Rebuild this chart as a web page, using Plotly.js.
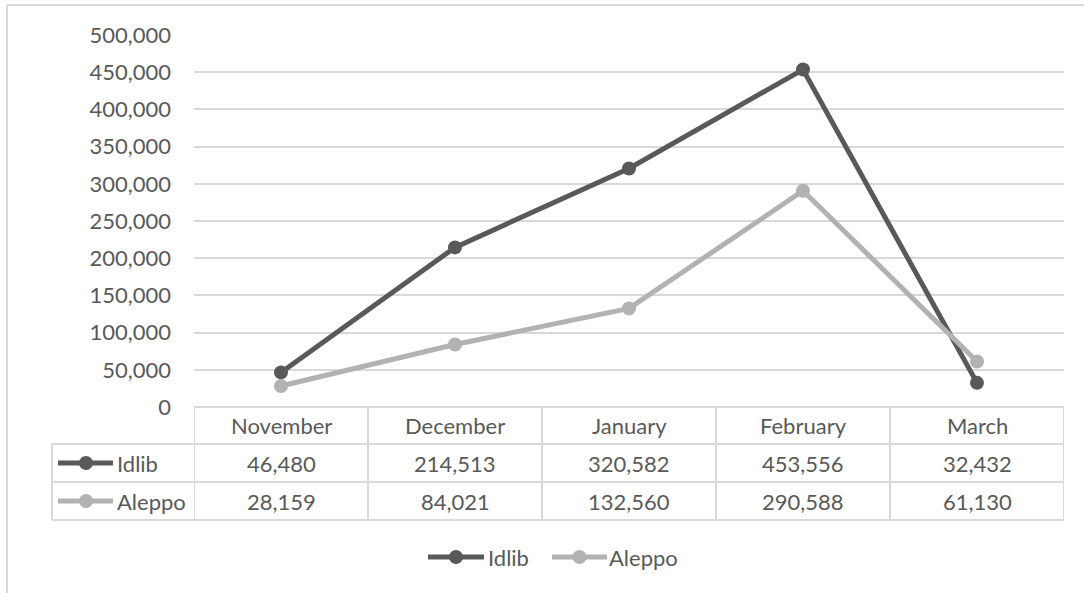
<!DOCTYPE html>
<html>
<head>
<meta charset="utf-8">
<script src="https://cdn.plot.ly/plotly-3.0.1.min.js"></script>
<style>html,body{margin:0;padding:0;background:#fff}#chart{width:1084px;height:593px}</style>
</head>
<body>
<div id="chart"></div>
<script>
const months = ["November", "December", "January", "February", "March"];
const idlib = [46480, 214513, 320582, 453556, 32432];
const aleppo = [28159, 84021, 132560, 290588, 61130];
const seriesNames = ["Idlib", "Aleppo"];
const seriesColors = ["#595959", "#b2b2b2"];
const yTicks = [0, 50000, 100000, 150000, 200000, 250000, 300000, 350000, 400000, 450000, 500000];

const W = 1084, H = 593;
const L = 194, R = 20, T = 35, B = 186;
const PW = W - L - R, PH = H - T - B;
const px = x => (x - L) / PW;          // pixel -> paper x
const py = y => (H - B - y) / PH;      // pixel -> paper y

const FONT = "Lato, 'Open Sans', sans-serif";
const TXT = "#595959";
const GRID = "#d9d9d9";
const FS = 22;

const fmt = v => v.toLocaleString("en-US");
const allSeries = [idlib, aleppo];

const traces = allSeries.map((vals, i) => ({
  type: "scatter", mode: "lines+markers", name: seriesNames[i],
  x: months, y: vals,
  line: {color: seriesColors[i], width: 5},
  marker: {color: seriesColors[i], size: 14},
  cliponaxis: false, showlegend: false
}));

const rowTop = [407, 444, 482, 520];
const rowMid = [425, 463, 501];
const shapes = [];
const annotations = [];

// table horizontal lines
for (let r = 1; r < rowTop.length; r++) {
  shapes.push({type: "line", xref: "paper", yref: "paper", x0: px(52), x1: 1, y0: py(rowTop[r]), y1: py(rowTop[r]), line: {color: GRID, width: 2}});
}
shapes.push({type: "line", xref: "paper", yref: "paper", x0: 0, x1: 1, y0: 0, y1: 0, line: {color: GRID, width: 2}});
// vertical lines at category boundaries
for (let k = 0; k <= months.length; k++) {
  shapes.push({type: "line", xref: "x", yref: "paper", x0: k - 0.5, x1: k - 0.5, y0: 0, y1: py(rowTop[3]), line: {color: GRID, width: 2}});
}
shapes.push({type: "line", xref: "paper", yref: "paper", x0: px(52), x1: px(52), y0: py(rowTop[1]), y1: py(rowTop[3]), line: {color: GRID, width: 2}});
// outer chart border
shapes.push({type: "line", xref: "paper", yref: "paper", x0: px(7), x1: px(7), y0: py(5), y1: py(600), line: {color: GRID, width: 2}});
shapes.push({type: "line", xref: "paper", yref: "paper", x0: px(7), x1: px(1090), y0: py(5), y1: py(5), line: {color: GRID, width: 2}});

// header row
months.forEach(m => annotations.push({xref: "x", yref: "paper", x: m, y: py(rowMid[0]), text: m, showarrow: false, font: {family: FONT, size: FS, color: TXT}, xanchor: "center", yanchor: "middle"}));
// data rows
allSeries.forEach((vals, i) => {
  vals.forEach((v, j) => annotations.push({xref: "x", yref: "paper", x: months[j], y: py(rowMid[i + 1]), text: fmt(v), showarrow: false, font: {family: FONT, size: FS, color: TXT}, xanchor: "center", yanchor: "middle"}));
  // legend key in table
  shapes.push({type: "line", xref: "paper", yref: "paper", x0: px(58), x1: px(113), y0: py(rowMid[i + 1]), y1: py(rowMid[i + 1]), line: {color: seriesColors[i], width: 5}});
  shapes.push({type: "circle", xref: "paper", yref: "paper", x0: px(86 - 7), x1: px(86 + 7), y0: py(rowMid[i + 1] - 7), y1: py(rowMid[i + 1] + 7), fillcolor: seriesColors[i], line: {width: 0}});
  annotations.push({xref: "paper", yref: "paper", x: px(115), y: py(rowMid[i + 1]), text: seriesNames[i], showarrow: false, font: {family: FONT, size: FS, color: TXT}, xanchor: "left", yanchor: "middle"});
});

// bottom legend
const legY = 557;
const legItems = [{x0: 428, x1: 484, t: 486}, {x0: 552, x1: 607, t: 607}];
legItems.forEach((it, i) => {
  const cx = (it.x0 + it.x1) / 2;
  shapes.push({type: "line", xref: "paper", yref: "paper", x0: px(it.x0), x1: px(it.x1), y0: py(legY), y1: py(legY), line: {color: seriesColors[i], width: 5}});
  shapes.push({type: "circle", xref: "paper", yref: "paper", x0: px(cx - 7), x1: px(cx + 7), y0: py(legY - 7), y1: py(legY + 7), fillcolor: seriesColors[i], line: {width: 0}});
  annotations.push({xref: "paper", yref: "paper", x: px(it.t), y: py(legY), text: seriesNames[i], showarrow: false, font: {family: FONT, size: FS, color: TXT}, xanchor: "left", yanchor: "middle"});
});

const layout = {
  width: W, height: H,
  margin: {l: L, r: R, t: T, b: B, pad: 0},
  paper_bgcolor: "#fff", plot_bgcolor: "#fff",
  font: {family: FONT, size: FS, color: TXT},
  showlegend: false,
  xaxis: {type: "category", range: [-0.5, 4.5], showticklabels: false, showgrid: false, zeroline: false, showline: false, ticks: "", fixedrange: true},
  yaxis: {range: [0, 500000], tickvals: yTicks, ticktext: yTicks.map(fmt), showgrid: true, gridcolor: GRID, gridwidth: 2, zeroline: false, showline: false, ticks: "", ticklabelstandoff: 22, tickfont: {family: FONT, size: FS, color: TXT}, fixedrange: true},
  shapes: shapes,
  annotations: annotations
};

Plotly.newPlot("chart", traces, layout, {displayModeBar: false, staticPlot: true});
</script>
</body>
</html>
